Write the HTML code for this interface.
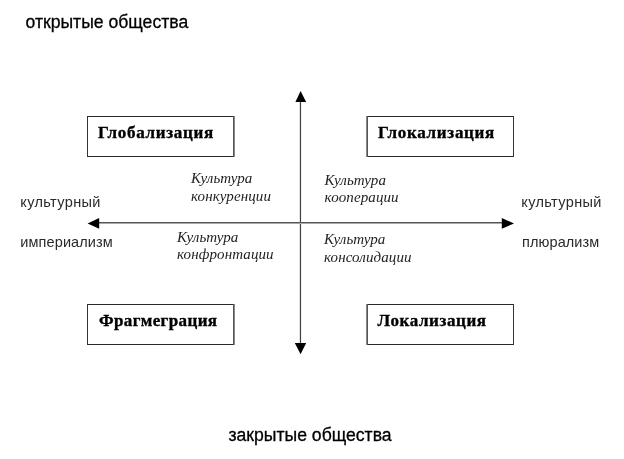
<!DOCTYPE html>
<html>
<head>
<meta charset="utf-8">
<style>
html,body{margin:0;padding:0;background:#fff;}
body{width:624px;height:459px;position:relative;overflow:hidden;}
#w{position:absolute;left:0;top:0;width:624px;height:459px;filter:grayscale(100%);}
.t{position:absolute;white-space:nowrap;line-height:1;color:#000;}
.s{font-family:"Liberation Sans",sans-serif;}
.b{font-family:"Liberation Serif",serif;font-weight:bold;font-size:17px;letter-spacing:0.7px;-webkit-text-stroke:0.35px #000;}
.i{font-family:"Liberation Serif",serif;font-style:italic;font-size:15px;line-height:17.6px;color:#222;letter-spacing:0.1px;}
</style>
</head>
<body>
<div id="w">
<div class="t s" style="left:25.5px;top:14.3px;font-size:17.6px;-webkit-text-stroke:0.3px #000;">открытые общества</div>
<div class="t s" style="left:228.5px;top:427px;font-size:17.6px;-webkit-text-stroke:0.3px #000;">закрытые общества</div>

<div class="t s" style="left:20.3px;top:194.8px;color:#2a2a2a;font-size:14.5px;letter-spacing:0.37px;">культурный</div>
<div class="t s" style="left:20.3px;top:235.4px;color:#2a2a2a;font-size:14.5px;letter-spacing:0.11px;">империализм</div>
<div class="t s" style="left:521.3px;top:194.5px;color:#2a2a2a;font-size:14.5px;letter-spacing:0.37px;">культурный</div>
<div class="t s" style="left:522.1px;top:235.2px;color:#2a2a2a;font-size:14.5px;letter-spacing:0.07px;">плюрализм</div>

<div class="t b" style="left:98px;top:123.7px;">Глобализация</div>
<div class="t b" style="left:378px;top:123.7px;">Глокализация</div>
<div class="t b" style="left:99px;top:311.7px;letter-spacing:0.4px;">Фрагмеграция</div>
<div class="t b" style="left:377.6px;top:311.9px;letter-spacing:0.6px;">Локализация</div>

<div class="t i" style="left:191px;top:170px;">Культура<br>конкуренции</div>
<div class="t i" style="left:324.6px;top:171.6px;">Культура<br>кооперации</div>
<div class="t i" style="left:177px;top:228.8px;">Культура<br>конфронтации</div>
<div class="t i" style="left:324px;top:231.1px;">Культура<br>консолидации</div>

<svg width="624" height="459" style="position:absolute;left:0;top:0;" shape-rendering="crispEdges">
  <rect x="87" y="116" width="147" height="1" fill="#2a2a2a"/>
  <rect x="87" y="156" width="147" height="1" fill="#2a2a2a"/>
  <rect x="87" y="116" width="1" height="41" fill="#333"/>
  <rect x="233" y="116" width="1" height="41" fill="#555"/>
  <rect x="234" y="116" width="1" height="41" fill="#888"/>
  <rect x="366" y="116" width="147" height="1" fill="#2a2a2a"/>
  <rect x="367" y="156" width="147" height="1" fill="#2a2a2a"/>
  <rect x="366" y="116" width="1" height="41" fill="#888"/>
  <rect x="367" y="116" width="1" height="41" fill="#555"/>
  <rect x="513" y="116" width="1" height="41" fill="#333"/>
  <rect x="87" y="304" width="147" height="1" fill="#2a2a2a"/>
  <rect x="87" y="344" width="147" height="1" fill="#2a2a2a"/>
  <rect x="87" y="304" width="1" height="41" fill="#333"/>
  <rect x="233" y="304" width="1" height="41" fill="#555"/>
  <rect x="234" y="304" width="1" height="41" fill="#888"/>
  <rect x="366" y="304" width="147" height="1" fill="#2a2a2a"/>
  <rect x="367" y="344" width="147" height="1" fill="#2a2a2a"/>
  <rect x="366" y="304" width="1" height="41" fill="#888"/>
  <rect x="367" y="304" width="1" height="41" fill="#555"/>
  <rect x="513" y="304" width="1" height="41" fill="#333"/>
  <rect x="299" y="100" width="1" height="244" fill="#e2e2e2"/>
  <rect x="300" y="100" width="1" height="244" fill="#404040"/>
  <rect x="301" y="100" width="1" height="244" fill="#f0f0f0"/>
  <rect x="98" y="222" width="405" height="1" fill="#555555"/>
  <rect x="98" y="223" width="405" height="1" fill="#a8a8a8"/>
  <g shape-rendering="auto" fill="#000">
  <polygon points="300.6,91 295.4,102 306.1,102"/>
  <polygon points="300.6,354.3 294.8,343 306.2,343"/>
  <polygon points="87.6,223.4 99.2,218 99.2,228.8"/>
  <polygon points="514,223.4 501.8,218 501.8,228.8"/>
  </g>
</svg>
</div>
</body>
</html>
